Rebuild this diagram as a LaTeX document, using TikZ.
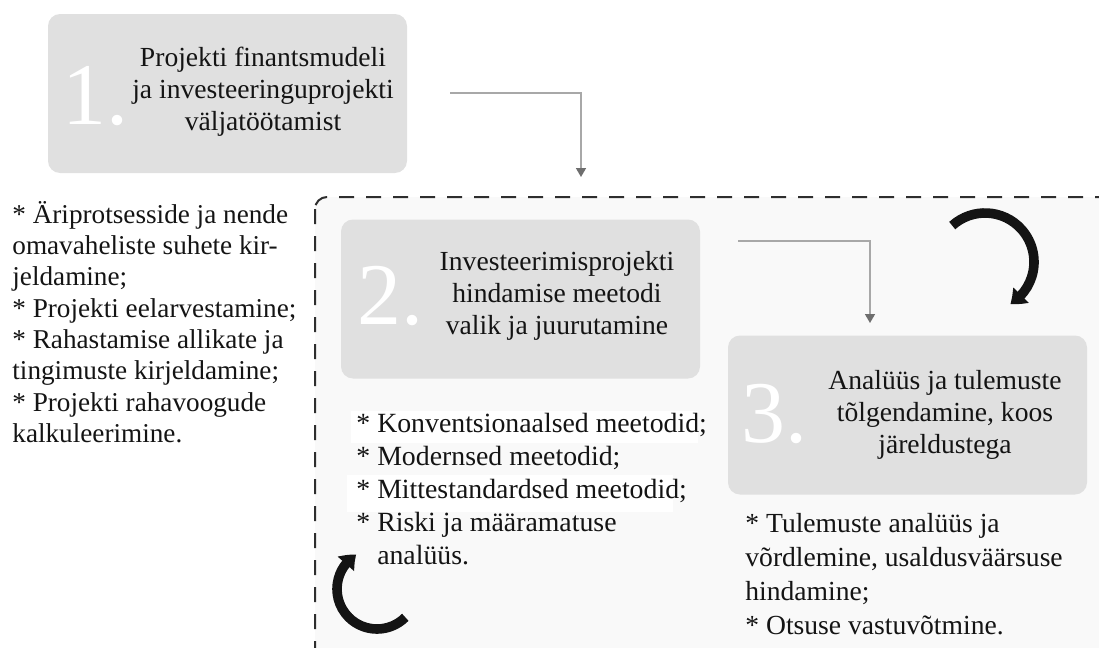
\documentclass[tikz,border=0pt]{standalone}
\usepackage{fontspec}
\setmainfont{Liberation Serif}
\usetikzlibrary{arrows.meta,bending}
\definecolor{boxgray}{HTML}{E0E0E0}
\definecolor{panel}{HTML}{F9F9F9}
\definecolor{linkgray}{HTML}{A8A8A8}
\definecolor{tipgray}{HTML}{6E6E6E}
\definecolor{ink}{HTML}{141414}
\definecolor{dashgray}{HTML}{2E2E2E}

\begin{document}
\begin{tikzpicture}[x=0.5pt,y=-0.5pt,
  stage/.style={fill=boxgray, draw=none, rounded corners=6pt, inner sep=0pt,
    minimum width=179.5pt, minimum height=79.5pt},
  bignum/.style={text=white, font=\fontsize{44}{44}\selectfont, inner sep=0pt, anchor=base west},
  stagetext/.style={text=ink, font=\fontsize{13.8}{16}\selectfont, align=center, inner sep=0pt},
  listtext/.style={text=ink, align=left, inner sep=0pt, anchor=west},
  link/.style={draw=linkgray, line width=0.8pt, -{Triangle[width=5pt,length=4.5pt,color=tipgray]}},
  turnarrow/.style={draw=ink, line width=4.8pt, -{Triangle[width=10.5pt,length=7pt,bend]}},
  highlight/.style={fill=white, draw=none}
]
\useasboundingbox (0,0) rectangle (1099,648);
\clip (0,0) rectangle (1099,648);

% dashed frame around stages 2 and 3
\draw[fill=panel, draw=dashgray, line width=1pt, dash pattern=on 7.5pt off 6pt,
  rounded corners=6pt] (315,197) rectangle (1112,662);

% stage boxes
\node[stage] (b1) at (227.5,93.5) {};
\node[stage] (b2) at (520.5,299) {};
\node[stage] (b3) at (907.5,415) {};

% large stage numbers
\node[bignum] (n1) at (62,124) {1.};
\node[bignum] (n2) at (357,324) {2.};
\node[bignum] (n3) at (741,442) {3.};

% stage titles
\node[stagetext] (t1) at (263,92) {Projekti finantsmudeli\\ja investeeringuprojekti\\väljatöötamist};
\node[stagetext] (t2) at (557,296) {Investeerimisprojekti\\hindamise meetodi\\valik ja juurutamine};
\node[stagetext] (t3) at (945,414.5) {Analüüs ja tulemuste\\tõlgendamine, koos\\järeldustega};

% connectors between stages
\coordinate (c1s) at (450,93);
\coordinate (c1e) at (581,177);
\draw[link] (c1s) -| (c1e);
\coordinate (c2s) at (738,241);
\coordinate (c2e) at (870,323);
\draw[link] (c2s) -| (c2e);

% white bands behind two list lines
\path[highlight] (351,411) rectangle (698,443);
\path[highlight] (347,475) rectangle (673,512);

% task lists
\node[listtext, font=\fontsize{13.6}{15.65}\selectfont] (l1) at (12,322)
  {* Äriprotsesside ja nende\\omavaheliste suhete kir-\\jeldamine;\\* Projekti eelarvestamine;\\* Rahastamise allikate ja\\tingimuste kirjeldamine;\\* Projekti rahavoogude\\kalkuleerimine.};
\node[listtext, font=\fontsize{13.9}{16.6}\selectfont] (l2) at (356,489)
  {* Konventsionaalsed meetodid;\\* Modernsed meetodid;\\* Mittestandardsed meetodid;\\* Riski ja määramatuse\\\phantom{*}\ analüüs.};
\node[listtext, font=\fontsize{13.8}{16.9}\selectfont] (l3) at (745,574)
  {* Tulemuste analüüs ja\\võrdlemine, usaldusväärsuse\\hindamine;\\* Otsuse vastuvõtmine.};

% circular arrows
\coordinate (r1) at (985,262);
\draw[turnarrow] (r1) ++(228:49) arc[start angle=228, end angle=419, radius=49];
\coordinate (r2) at (377,589);
\draw[turnarrow] (r2) ++(45:40) arc[start angle=45, end angle=239, radius=40];
\end{tikzpicture}
\end{document}
